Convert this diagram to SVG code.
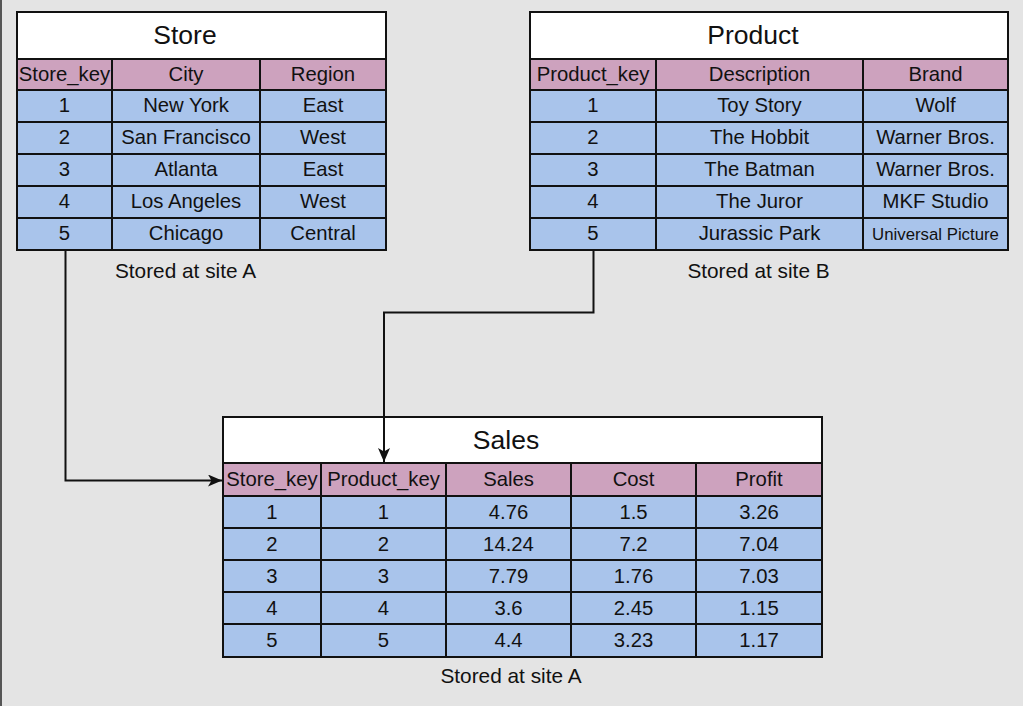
<svg xmlns="http://www.w3.org/2000/svg" width="1023" height="706" viewBox="0 0 1023 706">
<style>
.t{fill:#fff;stroke:#111;stroke-width:2}
.h{fill:#cda2be;stroke:#111;stroke-width:2}
.d{fill:#a9c4eb;stroke:#111;stroke-width:2}
text{font-family:"Liberation Sans",Arial,sans-serif;fill:#111;text-anchor:middle}
.tt{font-size:26.5px}
.c{font-size:20.3px}
.s{font-size:16.8px}
.lbl{font-size:20.8px}
.cn{fill:none;stroke:#111;stroke-width:2}
</style>
<defs>
<marker id="ar" viewBox="0 0 14 12" refX="14" refY="6" markerWidth="14" markerHeight="12" markerUnits="userSpaceOnUse" orient="auto">
<path d="M0,0 L14,6 L0,12 L3.5,6 Z" fill="#111"/>
</marker>
</defs>
<rect x="0" y="0" width="1023" height="706" fill="#e4e4e4"/>
<line x1="1" y1="0" x2="1" y2="706" stroke="#555" stroke-width="2"/>

<g id="store">
<rect class="t" x="17" y="12" width="369" height="47"/>
<text class="tt" x="185" y="44">Store</text>
<rect class="h" x="17" y="59" width="95" height="31"/>
<rect class="h" x="112" y="59" width="148" height="31"/>
<rect class="h" x="260" y="59" width="126" height="31"/>
<text class="c" x="64.5" y="80.5">Store_key</text>
<text class="c" x="186" y="80.5">City</text>
<text class="c" x="323" y="80.5">Region</text>
<rect class="d" x="17" y="90" width="95" height="32"/><rect class="d" x="112" y="90" width="148" height="32"/><rect class="d" x="260" y="90" width="126" height="32"/>
<rect class="d" x="17" y="122" width="95" height="32"/><rect class="d" x="112" y="122" width="148" height="32"/><rect class="d" x="260" y="122" width="126" height="32"/>
<rect class="d" x="17" y="154" width="95" height="32"/><rect class="d" x="112" y="154" width="148" height="32"/><rect class="d" x="260" y="154" width="126" height="32"/>
<rect class="d" x="17" y="186" width="95" height="32"/><rect class="d" x="112" y="186" width="148" height="32"/><rect class="d" x="260" y="186" width="126" height="32"/>
<rect class="d" x="17" y="218" width="95" height="32"/><rect class="d" x="112" y="218" width="148" height="32"/><rect class="d" x="260" y="218" width="126" height="32"/>
<text class="c" x="64.5" y="112">1</text><text class="c" x="186" y="112">New York</text><text class="c" x="323" y="112">East</text>
<text class="c" x="64.5" y="144">2</text><text class="c" x="186" y="144">San Francisco</text><text class="c" x="323" y="144">West</text>
<text class="c" x="64.5" y="176">3</text><text class="c" x="186" y="176">Atlanta</text><text class="c" x="323" y="176">East</text>
<text class="c" x="64.5" y="208">4</text><text class="c" x="186" y="208">Los Angeles</text><text class="c" x="323" y="208">West</text>
<text class="c" x="64.5" y="240">5</text><text class="c" x="186" y="240">Chicago</text><text class="c" x="323" y="240">Central</text>
</g>
<g id="store-label"><text class="lbl" x="185.5" y="277.5">Stored at site A</text></g>

<g id="product">
<rect class="t" x="530" y="12" width="478" height="47"/>
<text class="tt" x="753" y="44">Product</text>
<rect class="h" x="530" y="59" width="126" height="31"/>
<rect class="h" x="656" y="59" width="207" height="31"/>
<rect class="h" x="863" y="59" width="145" height="31"/>
<text class="c" x="593" y="80.5">Product_key</text>
<text class="c" x="759.5" y="80.5">Description</text>
<text class="c" x="935.5" y="80.5">Brand</text>
<rect class="d" x="530" y="90" width="126" height="32"/><rect class="d" x="656" y="90" width="207" height="32"/><rect class="d" x="863" y="90" width="145" height="32"/>
<rect class="d" x="530" y="122" width="126" height="32"/><rect class="d" x="656" y="122" width="207" height="32"/><rect class="d" x="863" y="122" width="145" height="32"/>
<rect class="d" x="530" y="154" width="126" height="32"/><rect class="d" x="656" y="154" width="207" height="32"/><rect class="d" x="863" y="154" width="145" height="32"/>
<rect class="d" x="530" y="186" width="126" height="32"/><rect class="d" x="656" y="186" width="207" height="32"/><rect class="d" x="863" y="186" width="145" height="32"/>
<rect class="d" x="530" y="218" width="126" height="32"/><rect class="d" x="656" y="218" width="207" height="32"/><rect class="d" x="863" y="218" width="145" height="32"/>
<text class="c" x="593" y="112">1</text><text class="c" x="759.5" y="112">Toy Story</text><text class="c" x="935.5" y="112">Wolf</text>
<text class="c" x="593" y="144">2</text><text class="c" x="759.5" y="144">The Hobbit</text><text class="c" x="935.5" y="144">Warner Bros.</text>
<text class="c" x="593" y="176">3</text><text class="c" x="759.5" y="176">The Batman</text><text class="c" x="935.5" y="176">Warner Bros.</text>
<text class="c" x="593" y="208">4</text><text class="c" x="759.5" y="208">The Juror</text><text class="c" x="935.5" y="208">MKF Studio</text>
<text class="c" x="593" y="240">5</text><text class="c" x="759.5" y="240">Jurassic Park</text><text class="s" x="935.5" y="240">Universal Picture</text>
</g>
<g id="product-label"><text class="lbl" x="758.5" y="277.5">Stored at site B</text></g>

<g id="sales">
<rect class="t" x="223" y="417" width="599" height="46"/>
<text class="tt" x="506" y="449">Sales</text>
<rect class="h" x="223" y="463" width="98" height="33"/><rect class="h" x="321" y="463" width="125" height="33"/><rect class="h" x="446" y="463" width="125" height="33"/><rect class="h" x="571" y="463" width="125" height="33"/><rect class="h" x="696" y="463" width="126" height="33"/>
<text class="c" x="272" y="486">Store_key</text><text class="c" x="383.5" y="486">Product_key</text><text class="c" x="508.5" y="486">Sales</text><text class="c" x="633.5" y="486">Cost</text><text class="c" x="759" y="486">Profit</text>
<rect class="d" x="223" y="496" width="98" height="32"/><rect class="d" x="321" y="496" width="125" height="32"/><rect class="d" x="446" y="496" width="125" height="32"/><rect class="d" x="571" y="496" width="125" height="32"/><rect class="d" x="696" y="496" width="126" height="32"/>
<rect class="d" x="223" y="528" width="98" height="32"/><rect class="d" x="321" y="528" width="125" height="32"/><rect class="d" x="446" y="528" width="125" height="32"/><rect class="d" x="571" y="528" width="125" height="32"/><rect class="d" x="696" y="528" width="126" height="32"/>
<rect class="d" x="223" y="560" width="98" height="32"/><rect class="d" x="321" y="560" width="125" height="32"/><rect class="d" x="446" y="560" width="125" height="32"/><rect class="d" x="571" y="560" width="125" height="32"/><rect class="d" x="696" y="560" width="126" height="32"/>
<rect class="d" x="223" y="592" width="98" height="32"/><rect class="d" x="321" y="592" width="125" height="32"/><rect class="d" x="446" y="592" width="125" height="32"/><rect class="d" x="571" y="592" width="125" height="32"/><rect class="d" x="696" y="592" width="126" height="32"/>
<rect class="d" x="223" y="624" width="98" height="33"/><rect class="d" x="321" y="624" width="125" height="33"/><rect class="d" x="446" y="624" width="125" height="33"/><rect class="d" x="571" y="624" width="125" height="33"/><rect class="d" x="696" y="624" width="126" height="33"/>
<text class="c" x="272" y="519">1</text><text class="c" x="383.5" y="519">1</text><text class="c" x="508.5" y="519">4.76</text><text class="c" x="633.5" y="519">1.5</text><text class="c" x="759" y="519">3.26</text>
<text class="c" x="272" y="551">2</text><text class="c" x="383.5" y="551">2</text><text class="c" x="508.5" y="551">14.24</text><text class="c" x="633.5" y="551">7.2</text><text class="c" x="759" y="551">7.04</text>
<text class="c" x="272" y="583">3</text><text class="c" x="383.5" y="583">3</text><text class="c" x="508.5" y="583">7.79</text><text class="c" x="633.5" y="583">1.76</text><text class="c" x="759" y="583">7.03</text>
<text class="c" x="272" y="615">4</text><text class="c" x="383.5" y="615">4</text><text class="c" x="508.5" y="615">3.6</text><text class="c" x="633.5" y="615">2.45</text><text class="c" x="759" y="615">1.15</text>
<text class="c" x="272" y="647">5</text><text class="c" x="383.5" y="647">5</text><text class="c" x="508.5" y="647">4.4</text><text class="c" x="633.5" y="647">3.23</text><text class="c" x="759" y="647">1.17</text>
</g>
<g id="sales-label"><text class="lbl" x="511" y="682.5">Stored at site A</text></g>

<g id="connectors">
<path class="cn" d="M65.5,251 V480.5 H222" marker-end="url(#ar)"/>
<path class="cn" d="M593.5,251 V312.5 H384 V462" marker-end="url(#ar)"/>
</g>
</svg>
